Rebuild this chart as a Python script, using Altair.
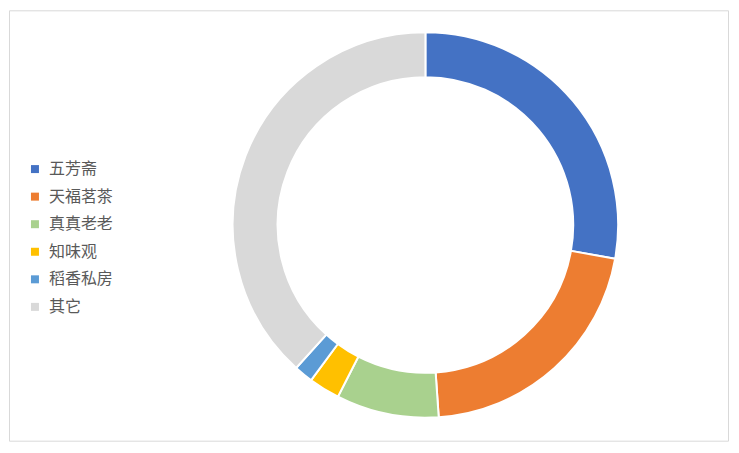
import altair as alt
import pandas as pd

categories = ["五芳斋", "天福茗茶", "真真老老", "知味观", "稻香私房", "其它"]
values = [27.8, 21.1, 8.6, 2.6, 1.6, 38.3]
colors = ["#4472C4", "#ED7D31", "#A9D18E", "#FFC000", "#5B9BD5", "#D9D9D9"]

df = pd.DataFrame({"cat": categories, "val": values, "idx": list(range(len(categories)))})

chart = alt.Chart(df).mark_arc(
    innerRadius=148, outerRadius=193, stroke="white", strokeWidth=2
).encode(
    theta=alt.Theta("val:Q", stack=True),
    order=alt.Order("idx:Q", sort="ascending"),
    color=alt.Color(
        "cat:N",
        sort=categories,
        scale=alt.Scale(domain=categories, range=colors),
        legend=alt.Legend(
            title=None,
            orient="none",
            legendX=18,
            legendY=151,
            symbolType="square",
            symbolSize=64,
            symbolStrokeWidth=0,
            labelFontSize=16,
            labelFont="Noto Sans CJK SC",
            labelColor="#595959",
            rowPadding=11.6,
            labelOffset=6,
        ),
    ),
    x=alt.value(417),
    y=alt.value(215),
).properties(
    width=720,
    height=431,
    padding={"left": 1, "top": 2, "right": 3, "bottom": 3},
).configure_view(
    stroke="#D9D9D9", strokeWidth=1
)

chart.save("out.html", embed_options={"renderer": "svg", "actions": False})
